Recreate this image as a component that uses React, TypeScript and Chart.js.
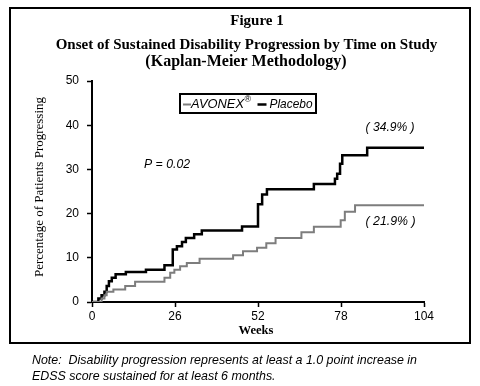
import React, { useEffect, useRef } from "react";
import { Chart, registerables } from "chart.js";

Chart.register(...registerables);

// ---- Data ----
const placeboWeeks = [0, 2.0, 3.0, 3.9, 4.6, 5.3, 6.2, 7.4, 10.6, 16.9, 22.7, 25.3, 26.6, 28.2, 29.4, 32.0, 34.4, 47.0, 52.0, 53.3, 54.8, 69.5, 76.1, 76.8, 77.7, 78.4, 86.2, 104];
const placeboPct = [0, 0.8, 1.5, 2.3, 3.6, 4.7, 5.5, 6.3, 6.8, 7.3, 8.3, 11.9, 12.6, 13.6, 14.5, 15.3, 16.2, 17.1, 22.1, 24.3, 25.5, 26.7, 27.9, 29.0, 31.3, 33.2, 34.9, 34.9];

const avonexWeeks = [0, 3.0, 3.9, 4.6, 6.7, 10.4, 13.5, 22.7, 24.5, 25.8, 27.6, 29.7, 33.7, 44.2, 47.3, 51.7, 54.6, 57.5, 65.6, 69.5, 77.9, 79.2, 82.4, 104];
const avonexPct = [0, 0.8, 1.5, 2.3, 2.8, 3.6, 4.6, 5.5, 6.6, 7.3, 8.1, 8.8, 9.8, 10.6, 11.5, 12.3, 13.3, 14.5, 15.8, 17.0, 18.5, 20.4, 21.9, 21.9];

const xTicks = [0, 26, 52, 78, 104];
const yTicks = [0, 10, 20, 30, 40, 50];

const seriesNames = ["AVONEX", "Placebo"];
const titleLines = [
  "Figure 1",
  "Onset of Sustained Disability Progression by Time on Study",
  "(Kaplan-Meier Methodology)",
];
const xTitle = "Weeks";
const yTitle = "Percentage of Patients Progressing";
const pValueText = "P = 0.02";
const finalLabels = ["( 34.9% )", "( 21.9% )"];
const noteLines = [
  "Note:  Disability progression represents at least a 1.0 point increase in",
  "EDSS score sustained for at least 6 months.",
];

const GRAY = "#7d7d7d";
const BLACK = "#000000";
const SANS = "'Liberation Sans', Arial, sans-serif";
const SERIF = "'Liberation Serif', 'Times New Roman', serif";

// draw text at fixed font size, stretched horizontally to the target width
function drawStretched(
  ctx: CanvasRenderingContext2D,
  text: string,
  font: string,
  x: number,
  y: number,
  targetW: number,
  align: "left" | "center",
  sxOverride?: number
): number {
  ctx.font = font;
  const w = ctx.measureText(text).width;
  const sx = sxOverride ?? targetW / w;
  ctx.save();
  ctx.translate(x, y);
  ctx.scale(sx, 1);
  ctx.textAlign = align;
  ctx.fillText(text, 0, 0);
  ctx.restore();
  return sx;
}

const decorPlugin = {
  id: "decor",
  afterDraw(chart: any) {
    const ctx: CanvasRenderingContext2D = chart.ctx;
    const xs = chart.scales.x;
    const ys = chart.scales.y;
    ctx.save();
    // frame
    ctx.strokeStyle = BLACK;
    ctx.lineWidth = 2;
    ctx.strokeRect(10, 8, 460, 335);

    ctx.fillStyle = BLACK;
    // titles (natural widths)
    ctx.textBaseline = "alphabetic";
    ctx.textAlign = "center";
    ctx.font = `bold 15px ${SERIF}`;
    ctx.fillText(titleLines[0], 257, 25);
    ctx.fillText(titleLines[1], 246.5, 49);
    ctx.font = `bold 16px ${SERIF}`;
    ctx.fillText(titleLines[2], 246, 65.5);

    ctx.textBaseline = "middle";
    // x title
    drawStretched(ctx, xTitle, `bold 13px ${SERIF}`, 256, 331, 35, "center");

    // y title
    ctx.save();
    ctx.translate(40, 187);
    ctx.rotate(-Math.PI / 2);
    drawStretched(ctx, yTitle, `13px ${SERIF}`, 0, 0, 180, "center");
    ctx.restore();

    // legend box
    ctx.strokeStyle = BLACK;
    ctx.lineWidth = 2;
    ctx.strokeRect(180, 94, 136, 19);
    const ly = 104;
    ctx.strokeStyle = GRAY;
    ctx.lineWidth = 2;
    ctx.beginPath();
    ctx.moveTo(183, ly + 0.5);
    ctx.lineTo(191, ly + 0.5);
    ctx.stroke();
    drawStretched(ctx, seriesNames[0], `italic 13px ${SANS}`, 191, ly, 53, "left");
    ctx.font = `9px ${SANS}`;
    ctx.textAlign = "left";
    ctx.fillText("\u00AE", 244.5, ly - 4);
    ctx.strokeStyle = BLACK;
    ctx.lineWidth = 2.5;
    ctx.beginPath();
    ctx.moveTo(257.5, ly + 0.5);
    ctx.lineTo(266.5, ly + 0.5);
    ctx.stroke();
    drawStretched(ctx, seriesNames[1], `italic 13px ${SANS}`, 269.5, ly, 43, "left");

    // annotations
    drawStretched(ctx, pValueText, `italic 13px ${SANS}`, xs.getPixelForValue(16.3), ys.getPixelForValue(31.1), 46, "left");
    drawStretched(ctx, finalLabels[0], `italic 13px ${SANS}`, xs.getPixelForValue(85.7), ys.getPixelForValue(39.6), 49, "left");
    drawStretched(ctx, finalLabels[1], `italic 13px ${SANS}`, xs.getPixelForValue(85.7), ys.getPixelForValue(18.3), 50, "left");

    // notes
    const sx = drawStretched(ctx, noteLines[0], `italic 13px ${SANS}`, 32, 360, 385, "left");
    drawStretched(ctx, noteLines[1], `italic 13px ${SANS}`, 32, 376, 0, "left", sx);
    ctx.restore();
  },
};

export default function App() {
  const ref = useRef<HTMLCanvasElement | null>(null);
  useEffect(() => {
    if (!ref.current) return;
    const chart = new Chart(ref.current, {
      type: "line",
      data: {
        datasets: [
          {
            label: seriesNames[0],
            data: avonexWeeks.map((w, i) => ({ x: w, y: avonexPct[i] })),
            borderColor: GRAY,
            borderWidth: 2,
            stepped: true,
            pointRadius: 0,
            fill: false,
          },
          {
            label: seriesNames[1],
            data: placeboWeeks.map((w, i) => ({ x: w, y: placeboPct[i] })),
            borderColor: BLACK,
            borderWidth: 2.5,
            stepped: true,
            pointRadius: 0,
            fill: false,
          },
        ],
      },
      options: {
        animation: false,
        responsive: false,
        devicePixelRatio: 1,
        layout: { padding: { left: 0, top: 81, right: 56, bottom: 0 } },
        plugins: {
          legend: { display: false },
          tooltip: { enabled: false },
          title: { display: false },
        },
        scales: {
          x: {
            type: "linear",
            min: 0,
            max: 104,
            afterFit: (s: any) => {
              s.height = 84;
            },
            afterBuildTicks: (s: any) => {
              s.ticks = xTicks.map((v) => ({ value: v }));
            },
            ticks: {
              autoSkip: false,
              maxRotation: 0,
              padding: 2,
              color: BLACK,
              font: { family: SANS, size: 12 },
            },
            grid: {
              display: true,
              drawOnChartArea: false,
              drawTicks: true,
              tickLength: 5,
              tickColor: BLACK,
              tickWidth: 1.5,
            },
            border: { display: true, color: BLACK, width: 2 },
          },
          y: {
            type: "linear",
            min: 0,
            max: 50,
            afterFit: (s: any) => {
              s.width = 92;
            },
            afterBuildTicks: (s: any) => {
              s.ticks = yTicks.map((v) => ({ value: v }));
            },
            ticks: {
              padding: 8,
              color: BLACK,
              font: { family: SANS, size: 12 },
            },
            grid: {
              display: true,
              drawOnChartArea: false,
              drawTicks: true,
              tickLength: 5,
              tickColor: BLACK,
              tickWidth: 1.5,
            },
            border: { display: true, color: BLACK, width: 2 },
          },
        },
      },
      plugins: [decorPlugin],
    });
    return () => chart.destroy();
  }, []);
  return (
    <div style={{ position: "absolute", left: 0, top: 0, width: 480, height: 386, background: "#fff" }}>
      <canvas ref={ref} width={480} height={386} />
    </div>
  );
}
